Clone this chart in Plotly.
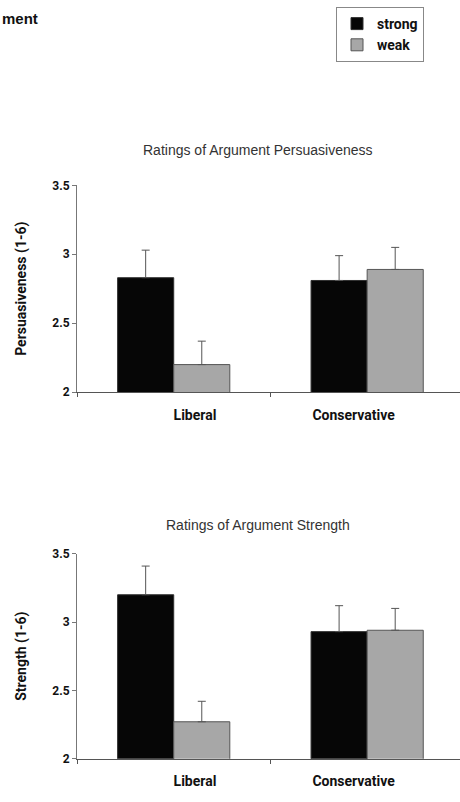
import plotly.graph_objects as go

categories = ["Liberal", "Conservative"]
series_names = ["strong", "weak"]

persuasiveness_strong = [2.83, 2.81]
persuasiveness_strong_err = [0.20, 0.18]
persuasiveness_weak = [2.20, 2.89]
persuasiveness_weak_err = [0.17, 0.16]

strength_strong = [3.20, 2.93]
strength_strong_err = [0.21, 0.19]
strength_weak = [2.27, 2.94]
strength_weak_err = [0.15, 0.16]

y_ticks = [2, 2.5, 3, 3.5]
y_tick_labels = ["2", "2.5", "3", "3.5"]

titles = ["Ratings of Argument Persuasiveness", "Ratings of Argument Strength"]
y_titles = ["Persuasiveness (1-6)", "Strength (1-6)"]

COND = "Roboto, Liberation Sans, sans-serif"
REG = "Liberation Sans, Arial, sans-serif"

colors = {"strong": "#060606", "weak": "#a7a7a7"}
outlines = {"strong": "#303030", "weak": "#555555"}

xpos = list(range(len(categories)))

fig = go.Figure()

panels = [
    (persuasiveness_strong, persuasiveness_strong_err, persuasiveness_weak, persuasiveness_weak_err, "x", "y"),
    (strength_strong, strength_strong_err, strength_weak, strength_weak_err, "x2", "y2"),
]

for pi, (s, se, w, we, xa, ya) in enumerate(panels):
    for name, vals, errs in [("strong", s, se), ("weak", w, we)]:
        fig.add_trace(go.Bar(
            x=xpos, y=vals, name=name, xaxis=xa, yaxis=ya,
            showlegend=(pi == 0), legendgroup=name,
            marker=dict(color=colors[name], line=dict(color=outlines[name], width=1)),
            error_y=dict(type="data", array=errs, symmetric=False, arrayminus=[0] * len(errs),
                         color="#555555", thickness=1, width=4),
        ))

H = 802
top_dom = [1 - 392 / H, 1 - 181.5 / H]
bot_dom = [1 - 765 / H, 1 - 556.5 / H]

def cfont(size):
    return dict(family=COND, size=size, color="#111111", weight="bold")

xcommon = dict(
    range=[-0.5, 1.48], showline=True, linecolor="#555555", linewidth=1,
    tickmode="array", tickvals=[0.11, 0.93], ticktext=categories, ticks="",
    tickfont=cfont(14),
    ticklabelstandoff=10, showgrid=False, zeroline=False, fixedrange=True,
    minor=dict(tickmode="array", tickvals=[-0.5, 0.5], ticks="outside", ticklen=4,
               tickcolor="#555555", showgrid=False),
)
ycommon = dict(
    range=[2, 3.5], showline=True, linecolor="#777777", linewidth=1,
    tickmode="array", tickvals=y_ticks, ticktext=y_tick_labels,
    ticks="outside", ticklen=4, tickcolor="#777777",
    tickfont=cfont(12),
    showgrid=False, zeroline=False, fixedrange=True,
)

fig.update_layout(
    width=460, height=H,
    margin=dict(l=77, r=0, t=0, b=0),
    paper_bgcolor="white", plot_bgcolor="white",
    barmode="group", bargap=0.42, bargroupgap=0,
    xaxis=dict(**xcommon, domain=[0, 1], anchor="y"),
    yaxis=dict(**ycommon, domain=top_dom, anchor="x",
               title=dict(text=y_titles[0], standoff=22, font=cfont(14))),
    xaxis2=dict(**xcommon, domain=[0, 1], anchor="y2"),
    yaxis2=dict(**ycommon, domain=bot_dom, anchor="x2",
                title=dict(text=y_titles[1], standoff=22, font=cfont(14))),
    legend=dict(
        x=(424 - 77) / 383, xanchor="right", y=1.0, yanchor="top",
        bordercolor="#888888", borderwidth=1, bgcolor="white",
        font=cfont(14),
        itemwidth=30, tracegroupgap=0,
    ),
    showlegend=True,
)

fig.add_annotation(text=titles[0], xref="paper", yref="paper",
                   x=(258 - 77) / 383, y=1 - 146 / H, showarrow=False,
                   font=dict(family=REG, size=14, color="#333333"),
                   xanchor="center", yanchor="middle")
fig.add_annotation(text=titles[1], xref="paper", yref="paper",
                   x=(258 - 77) / 383, y=1 - 527 / H, showarrow=False,
                   font=dict(family=REG, size=14, color="#333333"),
                   xanchor="center", yanchor="middle")
fig.add_annotation(text="ment", xref="paper", yref="paper",
                   x=-77 / 383, y=1 - 12 / H, showarrow=False,
                   font=dict(family=REG, size=15, color="#111111", weight="bold"),
                   xanchor="left", yanchor="middle")

fig.write_html("out.html")
